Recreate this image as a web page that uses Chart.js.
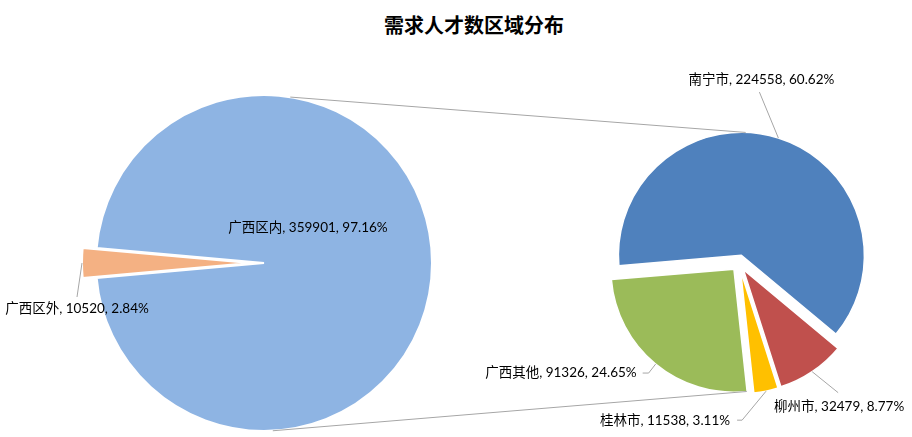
<!DOCTYPE html>
<html>
<head>
<meta charset="utf-8">
<script src="https://cdn.jsdelivr.net/npm/chart.js@4.4.1/dist/chart.umd.min.js"></script>
<style>
    body { margin: 0; background: #fff; }
    #wrap { position: relative; width: 912px; height: 437px; overflow: hidden; }
    #title { position: absolute; top: 11px; left: 18px; width: 912px; text-align: center;
             font: bold 20px "Noto Sans CJK SC", sans-serif; line-height: 28px; color: #000; }
    canvas { position: absolute; left: 0; top: 0; }
</style>
</head>
<body>
<div id="wrap">
    <div id="title">需求人才数区域分布</div>
    <canvas id="chartMain" width="912" height="437"></canvas>
    <canvas id="chartSub" width="912" height="437"></canvas>
</div>
<script>
// dados do gráfico
const mainLabels = ['广西区外', '广西区内'];
const mainValues = [10520, 359901];
const subLabels = ['南宁市', '柳州市', '桂林市', '广西其他'];
const subValues = [224558, 32479, 11538, 91326];

const mainColors = ['#F4B183', '#8EB4E3'];
const subColors = ['#4F81BD', '#C0504D', '#FFC000', '#9BBB59'];

const total = mainValues.reduce((a, b) => a + b, 0);
const subTotal = subValues.reduce((a, b) => a + b, 0);

const labelFont = '13.5px Lato, "Noto Sans CJK SC", sans-serif';
const lineGray = '#A6A6A6';

// quanto cada fatia "explode" para fora
const explodeDist = {
    chartMain: [14, 0],
    chartSub: [8, 8, 8, 8]
};

// posição dos rótulos em relação ao ponto da borda da fatia
const labelSpots = {
    chartMain: [
        { dx: -5, dy: 46, align: 'center', hooks: [[0, -12]] },
        { inside: true, dx: 44, dy: -35, align: 'center' }
    ],
    chartSub: [
        { dx: -17, dy: -58, align: 'center', hooks: [[-2, 12]] },
        { dx: 27, dy: 35, align: 'center', hooks: [[-1, -14]] },
        { dx: -36, dy: 29, align: 'right', hooks: [[12, 0], [7, 0]] },
        { dx: -19, dy: 9, align: 'right', hooks: [[12, 0], [6, 0]] }
    ]
};

let mainChart = null;
let subChart = null;

const explodePlugin = {
    id: 'explode',
    beforeDatasetDraw(chart, args) {
        const ctx = chart.ctx;
        const dist = explodeDist[chart.canvas.id];
        args.meta.data.forEach((arc, i) => {
            const mid = (arc.startAngle + arc.endAngle) / 2;
            const d = dist[i] || 0;
            ctx.save();
            ctx.translate(Math.cos(mid) * d, Math.sin(mid) * d);
            arc.draw(ctx);
            ctx.restore();
        });
        return false;
    }
};

const labelPlugin = {
    id: 'sliceLabels',
    afterDatasetsDraw(chart) {
        const ctx = chart.ctx;
        const spots = labelSpots[chart.canvas.id];
        const dist = explodeDist[chart.canvas.id];
        const labels = chart.data.labels;
        const values = chart.data.datasets[0].data;
        ctx.save();
        ctx.font = labelFont;
        ctx.textBaseline = 'middle';
        chart.getDatasetMeta(0).data.forEach((arc, i) => {
            const s = spots[i];
            const mid = (arc.startAngle + arc.endAngle) / 2;
            let ax = arc.x, ay = arc.y;
            if (!s.inside) {
                ax += Math.cos(mid) * (arc.outerRadius + dist[i]);
                ay += Math.sin(mid) * (arc.outerRadius + dist[i]);
            }
            const tx = ax + s.dx, ty = ay + s.dy;
            if (s.hooks) {
                ctx.beginPath();
                ctx.moveTo(ax, ay);
                s.hooks.forEach(h => ctx.lineTo(tx + h[0], ty + h[1]));
                ctx.strokeStyle = lineGray;
                ctx.lineWidth = 1;
                ctx.stroke();
            }
            const pct = (values[i] / total * 100).toFixed(2);
            ctx.fillStyle = '#000';
            ctx.textAlign = s.align;
            ctx.fillText(`${labels[i]}, ${values[i]}, ${pct}%`, tx, ty);
        });
        ctx.restore();
    }
};

// ponto na borda de uma fatia, num ângulo dado (graus)
function rimPoint(chart, i, deg) {
    const arc = chart.getDatasetMeta(0).data[i];
    const d = explodeDist[chart.canvas.id][i];
    const mid = (arc.startAngle + arc.endAngle) / 2;
    const a = deg * Math.PI / 180;
    return {
        x: arc.x + Math.cos(mid) * d + Math.cos(a) * arc.outerRadius,
        y: arc.y + Math.sin(mid) * d + Math.sin(a) * arc.outerRadius
    };
}

const connectorPlugin = {
    id: 'connectors',
    afterDraw(chart) {
        if (!mainChart) return;
        const ctx = chart.ctx;
        const pairs = [
            [rimPoint(mainChart, 1, -81), rimPoint(chart, 0, -88)],
            [rimPoint(mainChart, 1, 87), rimPoint(chart, 3, 84)]
        ];
        ctx.save();
        ctx.strokeStyle = lineGray;
        ctx.lineWidth = 1;
        pairs.forEach(([p, q]) => {
            ctx.beginPath();
            ctx.moveTo(p.x, p.y);
            ctx.lineTo(q.x, q.y);
            ctx.stroke();
        });
        ctx.restore();
    }
};

const baseOptions = () => ({
    responsive: false,
    animation: false,
    plugins: { legend: { display: false }, tooltip: { enabled: false } }
});

// 1. Pizza principal
mainChart = new Chart(document.getElementById('chartMain'), {
    type: 'pie',
    data: {
        labels: mainLabels,
        datasets: [{ data: mainValues, backgroundColor: mainColors, borderColor: '#fff', borderWidth: 2 }]
    },
    options: Object.assign(baseOptions(), {
        radius: 168,
        rotation: 270 - mainValues[0] / total * 180,
        layout: { padding: { left: 0, right: 384, top: 90, bottom: 1 } }
    }),
    plugins: [explodePlugin, labelPlugin]
});

// 2. Pizza secundária (detalhe de 广西区内)
const restSpan = (subTotal - subValues[0]) / subTotal * 360;
subChart = new Chart(document.getElementById('chartSub'), {
    type: 'pie',
    data: {
        labels: subLabels,
        datasets: [{ data: subValues, backgroundColor: subColors, borderColor: '#fff', borderWidth: 1.5 }]
    },
    options: Object.assign(baseOptions(), {
        radius: 123,
        rotation: 107.5 + restSpan / 2 + 90,
        layout: { padding: { left: 566, right: 0, top: 90, bottom: 1 } }
    }),
    plugins: [explodePlugin, labelPlugin, connectorPlugin]
});
</script>
</body>
</html>
